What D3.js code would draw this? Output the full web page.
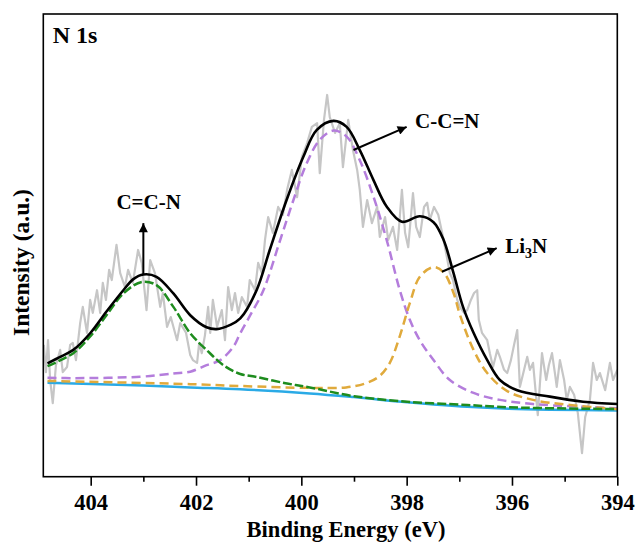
<!DOCTYPE html>
<html>
<head>
<meta charset="utf-8">
<script src="https://cdn.jsdelivr.net/npm/d3@7"></script>
<style>
  body { margin: 0; background: #fff; }
  svg { display: block; }
  text { font-family: "Liberation Serif", "Times New Roman", serif; font-weight: bold; fill: #000; }
</style>
</head>
<body>
<svg id="chart" width="638" height="544"></svg>
<script>
// N 1s XPS spectrum: [binding energy (eV), intensity (a.u.)]
const rawSpectrum = [
  [404.89,28.5],[404.85,22.6],[404.81,29.5],[404.77,20.9],[404.72,15.9],[404.66,24.1],[404.58,27.4],[404.53,22.6],
  [404.45,23.7],[404.39,28.5],[404.34,28.9],[404.28,25.2],[404.20,33.2],[404.15,36.7],[404.07,31.1],[404.01,38.2],
  [403.96,35.4],[403.88,40.3],[403.82,35.4],[403.77,41.9],[403.71,38.2],[403.65,44.7],[403.60,42.5],[403.51,50.1],
  [403.44,44.0],[403.35,41.0],[403.29,44.7],[403.20,41.9],[403.10,49.0],[403.03,46.2],[402.94,36.0],[402.87,46.8],
  [402.78,44.0],[402.68,36.7],[402.63,39.7],[402.55,32.4],[402.48,34.5],[402.36,29.5],[402.30,33.2],[402.19,31.1],
  [402.11,26.3],[402.06,25.2],[401.98,24.6],[401.94,28.9],[401.89,26.7],[401.83,30.6],[401.77,36.7],[401.73,31.1],
  [401.68,38.2],[401.60,32.4],[401.51,36.0],[401.45,29.5],[401.39,41.0],[401.32,36.0],[401.26,39.7],[401.20,35.4],
  [401.13,38.8],[401.03,36.7],[400.98,42.5],[400.88,40.3],[400.82,46.2],[400.75,44.0],[400.69,51.2],[400.63,56.1],
  [400.54,52.7],[400.44,58.3],[400.35,56.6],[400.27,62.0],[400.18,66.3],[400.08,60.4],[399.99,69.1],[399.89,72.1],
  [399.80,75.6],[399.70,76.4],[399.65,65.6],[399.57,77.1],[399.51,82.5],[399.46,77.7],[399.36,74.3],[399.27,76.4],
  [399.21,66.9],[399.11,77.1],[399.02,70.6],[398.94,66.3],[398.89,62.0],[398.83,54.0],[398.75,59.8],[398.66,54.8],
  [398.56,58.3],[398.51,51.8],[398.41,56.1],[398.35,51.2],[398.26,54.0],[398.18,49.0],[398.09,62.0],[398.03,52.7],
  [397.97,49.6],[397.88,61.3],[397.82,54.0],[397.75,51.8],[397.67,58.3],[397.61,59.2],[397.56,55.5],[397.48,58.3],
  [397.40,56.6],[397.31,51.8],[397.25,48.3],[397.18,44.0],[397.12,42.5],[397.04,38.2],[396.99,36.7],[396.91,35.4],
  [396.85,36.0],[396.78,38.2],[396.72,39.7],[396.66,40.3],[396.63,33.9],[396.57,31.1],[396.47,29.5],[396.42,26.7],
  [396.36,23.7],[396.28,27.4],[396.23,25.9],[396.15,23.1],[396.09,22.4],[396.02,25.2],[395.96,28.5],[395.90,31.7],
  [395.85,19.4],[395.77,23.1],[395.71,25.9],[395.66,23.1],[395.60,24.6],[395.51,13.3],[395.43,26.7],[395.35,20.9],
  [395.30,24.1],[395.24,26.7],[395.18,22.0],[395.15,19.4],[395.09,25.2],[395.01,20.9],[394.96,16.6],[394.90,19.4],
  [394.82,17.7],[394.75,13.8],[394.67,5.1],[394.61,12.9],[394.52,16.6],[394.46,24.6],[394.39,20.9],[394.33,22.4],
  [394.23,18.7],[394.14,24.6],[394.08,20.9],[394.00,23.1]
];

// Fitted envelope (sum of components)
const envelope = [
  [404.82,24.5],[404.58,25.9],[404.33,27.4],[404.01,31.0],[403.70,35.7],[403.38,40.3],[403.19,42.7],[403.00,43.7],
  [402.75,43.2],[402.43,39.6],[402.11,34.9],[401.80,32.3],[401.61,31.9],[401.35,32.8],[401.16,34.2],[400.85,40.3],
  [400.60,49.0],[400.28,59.8],[399.96,69.2],[399.71,74.9],[399.39,76.9],[399.14,75.6],[398.89,70.6],[398.63,64.1],
  [398.38,58.4],[398.09,55.1],[397.75,56.3],[397.49,55.0],[397.30,51.2],[397.11,44.0],[396.93,36.7],[396.73,31.1],
  [396.47,25.2],[396.23,20.9],[395.90,18.7],[395.28,17.3],[394.65,16.2],[394.00,15.7]
];

// Component: C=C-N
const peakCCN_unsat = [
  [404.82,23.9],[404.33,26.7],[404.01,30.3],[403.70,34.9],[403.38,39.6],[403.03,42.1],[402.75,41.4],[402.43,36.7],
  [402.11,31.0],[401.80,27.4],[401.48,24.1],[401.16,22.2],[400.87,21.6],[400.30,20.2],[399.84,19.3],[399.00,17.4],
  [397.99,16.2],[396.85,15.5],[396.06,15.0],[394.00,14.6]
];

// Component: C-C=N
const peakCCN_nitrile = [
  [404.82,21.4],[404.33,21.3],[403.06,21.6],[402.43,22.3],[402.11,22.7],[401.80,24.1],[401.54,25.2],[401.29,28.1],
  [401.16,31.0],[400.97,34.9],[400.72,40.3],[400.40,51.2],[400.15,59.8],[399.90,67.7],[399.65,72.8],[399.39,74.8],
  [399.14,73.5],[398.89,68.4],[398.63,60.5],[398.38,51.2],[398.13,40.3],[397.94,33.9],[397.75,29.5],[397.49,25.2],
  [397.18,20.9],[396.73,18.1],[396.23,16.6],[395.60,15.7],[394.00,14.8]
];

// Component: Li3N
const peakLi3N = [
  [404.82,20.7],[402.11,20.0],[401.16,19.6],[399.84,19.2],[399.15,19.3],[398.77,20.2],[398.51,21.8],[398.32,24.6],
  [398.13,30.4],[397.94,37.5],[397.75,43.2],[397.49,45.3],[397.30,44.2],[397.11,39.7],[396.98,34.7],[396.73,27.4],
  [396.47,22.4],[396.09,18.5],[395.60,16.6],[394.90,15.5],[394.00,14.6]
];

// Shirley background
const background = [
  [404.82,20.3],[403.00,19.7],[402.11,19.3],[401.16,18.9],[399.84,18.0],[399.00,17.2],[397.99,16.1],[396.85,15.1],
  [396.06,14.7],[394.00,14.3]
];

const majorTicks = [404, 402, 400, 398, 396, 394];
const minorTicks = [403, 401, 399, 397, 395];

const svg = d3.select("#chart");
const box = { left: 43.3, right: 617.3, top: 14, bottom: 476.7 };

const x = d3.scaleLinear().domain([404.9, 394]).range([box.left, box.right]);
const y = d3.scaleLinear().domain([0, 100]).range([box.bottom, box.top]);

const defs = svg.append("defs");
defs.append("clipPath").attr("id", "plotClip")
  .append("rect")
  .attr("x", box.left).attr("y", box.top)
  .attr("width", box.right - box.left).attr("height", box.bottom - box.top);

const plot = svg.append("g").attr("clip-path", "url(#plotClip)");

const rawLine = d3.line().x(d => x(d[0])).y(d => y(d[1]));
const smoothLine = d3.line().x(d => x(d[0])).y(d => y(d[1])).curve(d3.curveCatmullRom.alpha(0.5));

plot.append("path").datum(rawSpectrum)
  .attr("d", rawLine).attr("fill", "none")
  .attr("stroke", "#c6c6c6").attr("stroke-width", 2.2).attr("stroke-linejoin", "round");

plot.append("path").datum(background)
  .attr("d", smoothLine).attr("fill", "none")
  .attr("stroke", "#2aaae6").attr("stroke-width", 2.5);

plot.append("path").datum(peakCCN_nitrile)
  .attr("d", smoothLine).attr("fill", "none")
  .attr("stroke", "#b47ddc").attr("stroke-width", 2.5).attr("stroke-dasharray", "9,5");

plot.append("path").datum(peakLi3N)
  .attr("d", smoothLine).attr("fill", "none")
  .attr("stroke", "#e0aa3c").attr("stroke-width", 2.5).attr("stroke-dasharray", "9,5");

plot.append("path").datum(peakCCN_unsat)
  .attr("d", smoothLine).attr("fill", "none")
  .attr("stroke", "#1e8c1e").attr("stroke-width", 2.5).attr("stroke-dasharray", "9,3");

plot.append("path").datum(envelope)
  .attr("d", smoothLine).attr("fill", "none")
  .attr("stroke", "#000").attr("stroke-width", 2.6);

// Frame
svg.append("rect")
  .attr("x", box.left).attr("y", box.top)
  .attr("width", box.right - box.left).attr("height", box.bottom - box.top)
  .attr("fill", "none").attr("stroke", "#000").attr("stroke-width", 1.6);

// Bottom axis: major ticks with labels, minor ticks without
const axisMajor = d3.axisBottom(x).tickValues(majorTicks).tickSize(9).tickPadding(8).tickFormat(d3.format("d"));
const axisMinor = d3.axisBottom(x).tickValues(minorTicks).tickSize(5).tickFormat("");

const gMajor = svg.append("g").attr("transform", `translate(0,${box.bottom})`).call(axisMajor);
const gMinor = svg.append("g").attr("transform", `translate(0,${box.bottom})`).call(axisMinor);
[gMajor, gMinor].forEach(g => {
  g.select(".domain").remove();
  g.selectAll(".tick line").attr("stroke", "#000").attr("stroke-width", 1.6);
});
gMajor.selectAll(".tick text")
  .style("font-family", "'Liberation Serif','Times New Roman',serif")
  .style("font-weight", "bold").style("font-size", "22.5px").attr("fill", "#000");

// Axis titles
svg.append("text")
  .attr("x", 346).attr("y", 537)
  .attr("text-anchor", "middle").style("font-size", "22.5px")
  .text("Binding Energy (eV)");

svg.append("text")
  .attr("transform", "translate(29,262.5) rotate(-90)")
  .attr("text-anchor", "middle").style("font-size", "23.5px")
  .text("Intensity (a.u.)");

// Panel label
svg.append("text")
  .attr("x", 52.7).attr("y", 43.3).style("font-size", "24px")
  .text("N 1s");

// Annotation arrows
const marker = defs.append("marker")
  .attr("id", "arrowHead").attr("viewBox", "0 0 10 10")
  .attr("refX", 10).attr("refY", 5)
  .attr("markerUnits", "userSpaceOnUse")
  .attr("markerWidth", 15).attr("markerHeight", 9)
  .attr("orient", "auto");
marker.append("path").attr("d", "M0,0 L10,5 L0,10 Z").attr("fill", "#000");

function arrow(e0, i0, e1, i1) {
  svg.append("line")
    .attr("x1", x(e0)).attr("y1", y(i0))
    .attr("x2", x(e1)).attr("y2", y(i1))
    .attr("stroke", "#000").attr("stroke-width", 2)
    .attr("marker-end", "url(#arrowHead)");
}

arrow(403.0, 43.7, 403.0, 54.8);
arrow(399.01, 70.6, 398.0, 75.6);
arrow(397.33, 44.3, 396.29, 49.4);

svg.append("text")
  .attr("x", x(402.9)).attr("y", y(57.9))
  .attr("text-anchor", "middle").style("font-size", "21px")
  .text("C=C-N");

svg.append("text")
  .attr("x", x(397.84)).attr("y", y(75.3))
  .style("font-size", "21px")
  .text("C-C=N");

const li = svg.append("text")
  .attr("x", x(396.13)).attr("y", y(48.3))
  .style("font-size", "21px");
li.append("tspan").text("Li");
li.append("tspan").attr("dy", 5).style("font-size", "14px").text("3");
li.append("tspan").attr("dy", -5).text("N");
</script>
</body>
</html>
